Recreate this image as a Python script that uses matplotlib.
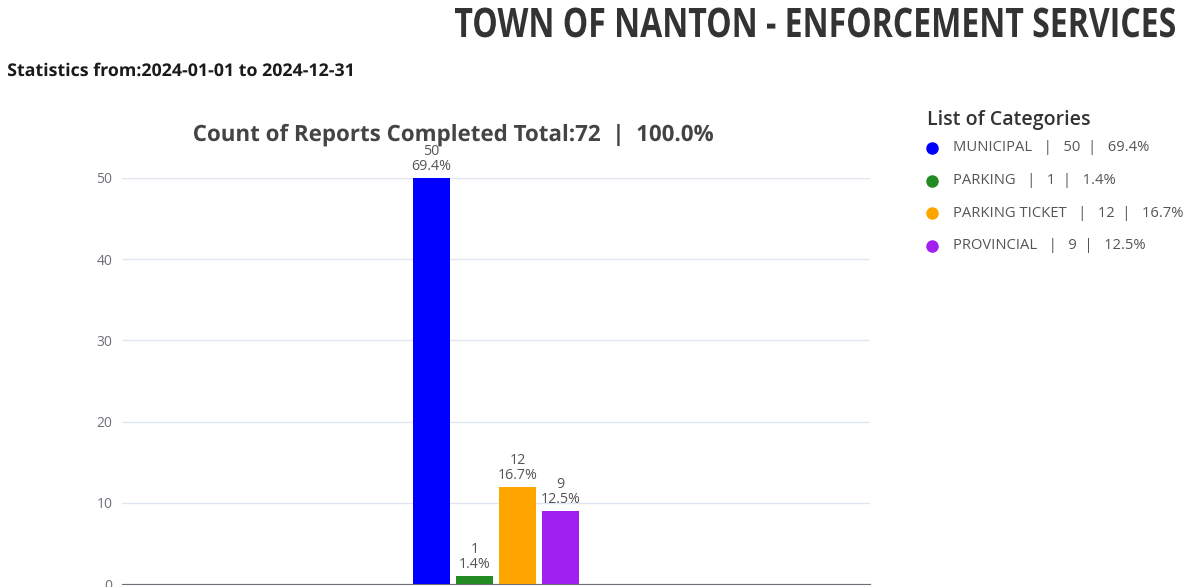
import matplotlib.pyplot as plt
from matplotlib.lines import Line2D
from matplotlib.textpath import TextPath
from matplotlib.patches import PathPatch
from matplotlib.font_manager import FontProperties
from matplotlib.transforms import Affine2D

categories = ['MUNICIPAL', 'PARKING', 'PARKING TICKET', 'PROVINCIAL']
counts = [50, 1, 12, 9]
percents = [69.4, 1.4, 16.7, 12.5]
colors = ['#0000ff', '#228b22', '#ffa500', '#a020f0']
yticks = [0, 10, 20, 30, 40, 50]

total = sum(counts)

W, H, DPI = 11.93, 5.87, 100
fig = plt.figure(figsize=(W, H), dpi=DPI)
ax = fig.add_axes([0.1023, 0.005, 0.6270, 0.692])


# narrow bold text: draw glyph outlines squeezed to a target width (pixels)
def squeezed_text(s, x_px, base_px, cap_px, width_px, weight, color, ha='left'):
    fp = FontProperties(family='Open Sans', weight=weight)
    tp = TextPath((0, 0), s, size=100, prop=fp)
    cap = TextPath((0, 0), 'H', size=100, prop=fp).get_extents().height
    ext = tp.get_extents()
    sy = cap_px / cap
    sx = width_px / ext.width
    if ha == 'right':
        x0 = x_px - width_px
    elif ha == 'center':
        x0 = x_px - width_px / 2
    else:
        x0 = x_px
    tr = (Affine2D().translate(-ext.x0, 0).scale(sx, sy)
          .translate(x0, H * DPI - base_px)
          .scale(1 / (W * DPI), 1 / (H * DPI)) + fig.transFigure)
    fig.add_artist(PathPatch(tp, transform=tr, facecolor=color, edgecolor='none'))


width = 0.0495
step = 0.0575
offsets = [(i - (len(counts) - 1) / 2) * step for i in range(len(counts))]
bars = ax.bar(offsets, counts, width=width, color=colors, zorder=3)

for x, c, p in zip(offsets, counts, percents):
    ax.text(x, c + 0.45, f'{c}\n{p}%', ha='center', va='bottom', fontsize=10.3,
            color='#555555', family='Open Sans', linespacing=1.0, zorder=4)

ax.set_xlim(-0.5, 0.5)
ax.set_ylim(0, 50)
ax.set_yticks(yticks)
ax.set_xticks([])
ax.grid(axis='y', color='#e0e6f1', linewidth=1, zorder=0)
for s in ['top', 'right', 'left']:
    ax.spines[s].set_visible(False)
ax.spines['bottom'].set_color('#6e7079')
ax.tick_params(axis='y', length=0, pad=7, labelsize=10, labelcolor='#6e7079')
for lab in ax.get_yticklabels():
    lab.set_family('Open Sans')

squeezed_text('TOWN OF NANTON - ENFORCEMENT SERVICES', 1175, 37, 29, 720,
              'bold', '#333333', ha='right')
squeezed_text('Statistics from:2024-01-01 to 2024-12-31', 8, 76, 12.5, 344,
              'bold', '#1a1a1a')
squeezed_text(f'Count of Reports Completed Total:{total}  |  100.0%', 453.5, 141,
              16, 519, 'bold', '#444444', ha='center')

fig.text(0.777, 0.795, 'List of Categories', ha='left', va='center',
         fontsize=14, fontweight='semibold', color='#333333', family='Open Sans')
legend_y = [0.748, 0.692, 0.637, 0.581]
for name, c, p, col, y in zip(categories, counts, percents, colors, legend_y):
    fig.add_artist(Line2D([0.7815], [y], marker='o', markersize=8,
                          color=col, transform=fig.transFigure))
    fig.text(0.799, y, f'{name}   |   {c}  |   {p}%', ha='left', va='center',
             fontsize=10.6, color='#555555', family='Open Sans')

fig.savefig('out.png', dpi=DPI)
